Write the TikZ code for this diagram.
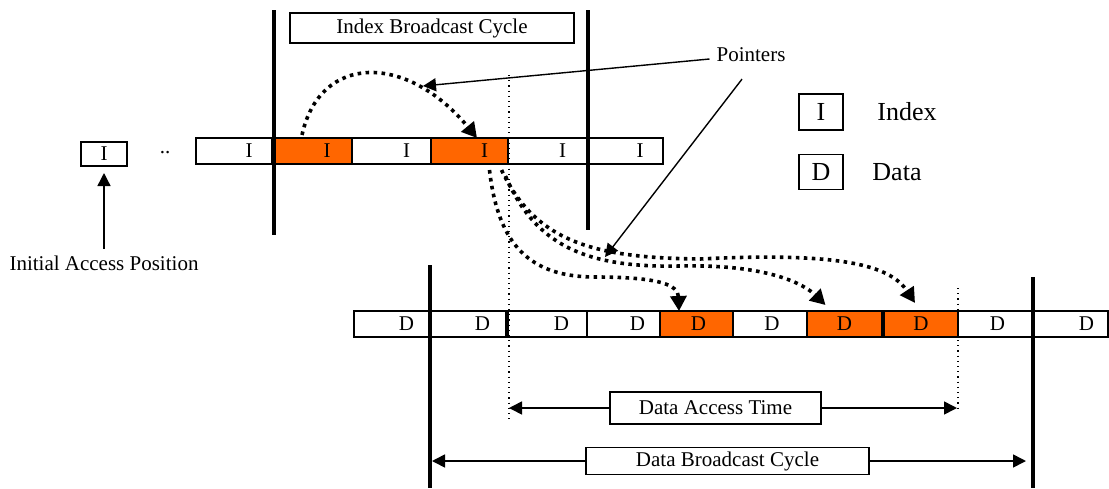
\documentclass[tikz,border=0pt]{standalone}
\usepackage{fontspec}
\setmainfont{Liberation Serif}
\usetikzlibrary{arrows.meta}
\definecolor{hot}{RGB}{255,102,0}
\tikzset{
  cell/.style={draw, line width=0.8pt, minimum height=13pt, inner sep=0pt, outer sep=0pt},
  tag box/.style={draw, line width=0.8pt, inner sep=0pt, outer sep=0pt},
  cycle bar/.style={line width=2pt},
  guide/.style={dotted, line width=0.6pt},
  hop/.style={line width=1.8pt, dash pattern=on 1.8pt off 2.2pt, -{Triangle[length=7.5pt,width=8pt]}},
  pointer/.style={line width=0.7pt, -{Triangle[length=6.5pt,width=6.5pt]}},
  extent/.style={line width=0.8pt, -{Triangle[length=6.5pt,width=6.5pt]}},
  big/.style={font=\fontsize{13}{15}\selectfont},
}

\begin{document}
\begin{tikzpicture}[x=0.5pt, y=-0.5pt, every node/.style={font=\fontsize{10.5}{12}\selectfont}]
  \useasboundingbox (0,0) rectangle (1109,488);

  % index channel
  \foreach \n/\cx/\w/\col in {1/234/76/white, 2/312/80/hot, 3/391.5/79/white,
                              4/469.5/77/hot, 5/547.5/79/white, 6/625/76/white}
    \node[cell, fill=\col, minimum width=\w*0.5pt, label={[xshift=7.5pt]center:I}] (i\n) at (\cx,151) {};

  % data channel
  \foreach \n/\cx/\w/\col/\dx in {1/392.5/77/white/7pt, 2/468.5/75/white/7pt, 3/547.5/79/white/7pt,
                                  4/623.5/73/white/7pt, 5/696.5/73/hot/1pt, 6/770/74/white/1pt,
                                  7/844.5/75/hot/0pt, 8/921/74/hot/0pt, 9/995.5/75/white/1pt,
                                  10/1070.5/75/white/8pt}
    \node[cell, fill=\col, minimum width=\w*0.5pt, label={[xshift=\dx]center:D}] (d\n) at (\cx,324) {};

  % cycle bounds
  \draw[cycle bar] (274,10)  -- (274,235);
  \draw[cycle bar] (588,10)  -- (588,230);
  \draw[cycle bar] (430,265) -- (430,488);
  \draw[cycle bar] (1033,277) -- (1033,488);
  \draw[guide] (509,75)  -- (509,423);
  \draw[guide] (958,288) -- (958,410);
  \coordinate (gl) at (509,407);
  \coordinate (gr) at (957,402);
  \coordinate (bl) at (432,463);
  \coordinate (br) at (1026,463);

  \node[tag box, minimum width=142pt, minimum height=15pt] (idxcycle) at (432,28) {Index Broadcast Cycle};
  \node[tag box, minimum width=105.5pt, minimum height=16pt] (acctime) at (715.5,408) {Data Access Time};
  \node[tag box, minimum width=141.5pt, minimum height=13.5pt] (datacycle) at (727.5,461) {Data Broadcast Cycle};
  \draw[extent] (acctime.west) -- (acctime.west -| gl);
  \draw[extent] (acctime.east) -- (acctime.east -| gr);
  \draw[extent] (datacycle.west) -- (datacycle.west -| bl);
  \draw[extent] (datacycle.east) -- (datacycle.east -| br);

  % initial position
  \node[tag box, minimum width=23pt, minimum height=12pt] (initI) at (104,154) {I};
  \node (dots) at (165,153) {..};
  \node (initpos) at (104,263) {Initial Access Position};
  \draw[pointer] (initpos.north) -- ([yshift=-3.5pt]initI.south);

  % legend
  \node[tag box, big, minimum width=22pt, minimum height=18pt] (legI) at (821,112) {I};
  \node[big] (legIt) at (907,112) {Index};
  \node[tag box, big, minimum width=22pt, minimum height=17.5pt] (legD) at (821,172) {D};
  \node[big] (legDt) at (897,172) {Data};

  % pointers
  \draw[hop] ([xshift=-5pt,yshift=1.5pt]i2.north) .. controls (320,53) and (407,53) .. ([xshift=3.75pt]i4.north);
  \draw[hop] ([xshift=10pt,yshift=-3pt]i4.south) .. controls (498,245) and (530,277) .. (595,277)
             .. controls (660,277) and (678,285) .. ([xshift=-8.75pt]d5.north);
  \draw[hop] ([xshift=18pt,yshift=-6pt]i4.south) .. controls (535,245) and (585,268) .. (680,266)
             .. controls (770,264) and (805,285) .. ([xshift=-9.5pt,yshift=3pt]d7.north);
  \draw[hop] ([xshift=16pt,yshift=-3pt]i4.south) .. controls (535,240) and (590,258) .. (700,259)
             .. controls (840,252) and (890,265) .. ([xshift=-3pt,yshift=4pt]d8.north);

  \node (ptr) at (751,55) {Pointers};
  \coordinate (tip1) at (423,86);
  \coordinate (tip2) at (605,257);
  \draw[pointer] ([yshift=-2pt]ptr.west) -- (tip1);
  \draw[pointer] ([xshift=-4.5pt,yshift=-5pt]ptr.south) -- (tip2);
\end{tikzpicture}
\end{document}
